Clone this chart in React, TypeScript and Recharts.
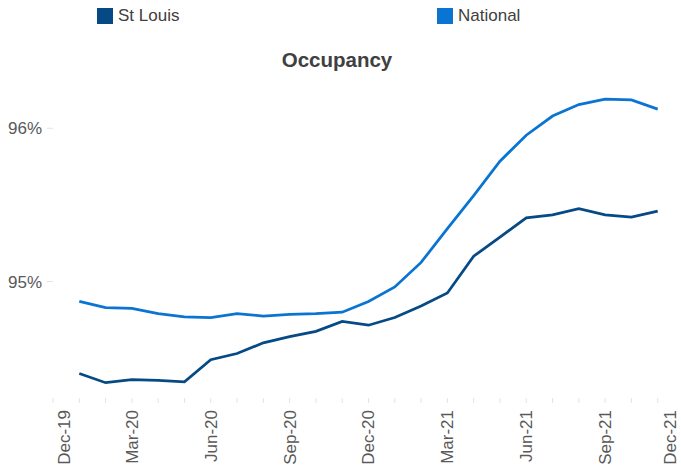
import { LineChart, Line, XAxis, YAxis } from 'recharts';

const months = [
  'Dec-19', 'Jan-20', 'Feb-20', 'Mar-20', 'Apr-20', 'May-20', 'Jun-20', 'Jul-20', 'Aug-20',
  'Sep-20', 'Oct-20', 'Nov-20', 'Dec-20', 'Jan-21', 'Feb-21', 'Mar-21', 'Apr-21', 'May-21',
  'Jun-21', 'Jul-21', 'Aug-21', 'Sep-21', 'Oct-21', 'Nov-21', 'Dec-21',
];

const stLouis = [
  null, 94.40, 94.34, 94.36, 94.355, 94.345, 94.49, 94.53, 94.60, 94.64, 94.675, 94.74,
  94.715, 94.765, 94.84, 94.925, 95.165, 95.29, 95.415, 95.435, 95.475, 95.435, 95.42, 95.46, null,
];

const national = [
  null, 94.87, 94.83, 94.825, 94.79, 94.77, 94.765, 94.79, 94.775, 94.785, 94.79, 94.80,
  94.87, 94.965, 95.125, 95.345, 95.56, 95.785, 95.955, 96.08, 96.155, 96.19, 96.185, 96.125, null,
];

const yTicks = [95, 96];

const data = months.map((m, i) => ({ month: m, stLouis: stLouis[i], national: national[i] }));

const DARK = '#064a85';
const LIGHT = '#0a74d2';
const TEXT = '#595959';
const FONT = '"Liberation Sans", Arial, sans-serif';

// labels at the two ends are pulled inside the frame, like the original
function MonthTick(props: any) {
  const { x, y, payload, index } = props;
  if (index % 3 !== 0) return <g />;
  const tx = Math.min(Math.max(x, 64), 670);
  return (
    <text
      x={tx}
      y={y + 1}
      transform={`rotate(-90, ${tx}, ${y + 1})`}
      textAnchor="end"
      dy="0.35em"
      fill={TEXT}
      fontSize={17}
      fontFamily={FONT}
    >
      {payload.value}
    </text>
  );
}

function LegendItem({ left, color, label }: { left: number; color: string; label: string }) {
  return (
    <div style={{ position: 'absolute', left, top: 8, display: 'flex', alignItems: 'center', height: 16 }}>
      <div style={{ width: 16, height: 16, background: color }} />
      <span style={{ marginLeft: 5, fontSize: 17, color: '#404040', fontFamily: FONT }}>{label}</span>
    </div>
  );
}

export default function App() {
  return (
    <div style={{ position: 'fixed', left: 0, top: 0, width: 681, height: 469, overflow: 'hidden', background: '#fff' }}>
      <LegendItem left={97} color={DARK} label="St Louis" />
      <LegendItem left={437} color={LIGHT} label="National" />
      <div
        style={{
          position: 'absolute', left: 0, width: 674, top: 48, textAlign: 'center',
          fontSize: 20.5, fontWeight: 'bold', color: '#404040', fontFamily: FONT,
        }}
      >
        Occupancy
      </div>
      <LineChart width={700} height={469} data={data} margin={{ top: 67, right: 16, bottom: 0, left: 0 }}>
        <XAxis
          dataKey="month"
          interval={0}
          axisLine={false}
          tickLine={{ stroke: '#e3e3e3' }}
          tickSize={5}
          tickMargin={6}
          height={71}
          tick={<MonthTick />}
        />
        <YAxis
          domain={[94.24, 96.4]}
          ticks={yTicks}
          allowDataOverflow
          axisLine={false}
          tickLine={{ stroke: '#e3e3e3' }}
          tickSize={6}
          tickMargin={5}
          width={53}
          tickFormatter={(v: number) => `${v}%`}
          tick={{ fill: TEXT, fontSize: 17, fontFamily: FONT }}
        />
        <Line dataKey="national" stroke={LIGHT} strokeWidth={2.75} dot={false} isAnimationActive={false} />
        <Line dataKey="stLouis" stroke={DARK} strokeWidth={2.75} dot={false} isAnimationActive={false} />
      </LineChart>
    </div>
  );
}
